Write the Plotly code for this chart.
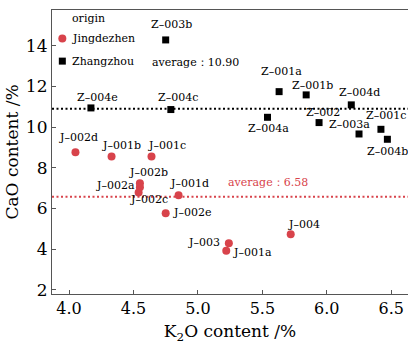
import plotly.graph_objects as go

# ---- data ----
j_names = ["J–002d", "J–001b", "J–001c", "J–002b", "J–002a", "J–002c", "J–001d",
           "J–002e", "J–003", "J–001a", "J–004"]
j_k2o = [4.05, 4.33, 4.64, 4.55, 4.55, 4.54, 4.85, 4.75, 5.24, 5.22, 5.72]
j_cao = [8.76, 8.55, 8.55, 7.24, 7.04, 6.78, 6.65, 5.77, 4.29, 3.92, 4.74]

z_names = ["Z–003b", "Z–004e", "Z–004c", "Z–001a", "Z–001b", "Z–004d", "Z–004a",
           "Z–002", "Z–003a", "Z–001c", "Z–004b"]
z_k2o = [4.75, 4.17, 4.79, 5.63, 5.84, 6.19, 5.54, 5.94, 6.25, 6.42, 6.47]
z_cao = [14.28, 10.94, 10.86, 11.74, 11.58, 11.09, 10.48, 10.22, 9.66, 9.89, 9.40]

avg_z = 10.90
avg_j = 6.58
x_ticks = [4.0, 4.5, 5.0, 5.5, 6.0, 6.5]
y_ticks = [2, 4, 6, 8, 10, 12, 14]

# ---- label offsets (pixels) ----
j_off = [(3, 15), (10, 11), (15, 11), (9, 11), (-24, 2), (10, -7), (11, 12),
         (26, 1), (-25, 1), (26, -2), (13, 10)]
z_off = [(6, 15), (7, 10), (7, 12), (2, 20), (6, 9), (8, 12), (1, -11),
         (4, 10), (-10, 9), (5, 14), (0, -12)]

RED = "#d8434b"
FONT = "DejaVu Serif"

fig = go.Figure()
fig.add_trace(go.Scatter(x=j_k2o, y=j_cao, mode="markers", name="Jingdezhen",
                         marker=dict(symbol="circle", size=8, color=RED),
                         showlegend=False))
fig.add_trace(go.Scatter(x=z_k2o, y=z_cao, mode="markers", name="Zhangzhou",
                         marker=dict(symbol="square", size=7, color="black"),
                         showlegend=False))

ann = []
for names, xs, ys, offs in [(j_names, j_k2o, j_cao, j_off), (z_names, z_k2o, z_cao, z_off)]:
    for n, x, y, (dx, dy) in zip(names, xs, ys, offs):
        ann.append(dict(x=x, y=y, text=n, showarrow=False, xshift=dx, yshift=dy,
                        font=dict(family=FONT, size=11, color="black")))

# average lines
shapes = [
    dict(type="line", xref="paper", x0=0, x1=1, yref="y", y0=avg_z, y1=avg_z,
         line=dict(color="black", width=2, dash="2px,2.5px")),
    dict(type="line", xref="paper", x0=0, x1=1, yref="y", y0=avg_j, y1=avg_j,
         line=dict(color=RED, width=2, dash="2px,2.5px")),
]
ann.append(dict(x=4.98, y=avg_z, yshift=46, text=f"average：{avg_z:.2f}", showarrow=False,
                font=dict(family=FONT, size=11, color="black")))
ann.append(dict(x=5.54, y=avg_j, yshift=14, text=f"average：{avg_j:.2f}", showarrow=False,
                font=dict(family=FONT, size=11, color=RED)))

# manual legend
ann.append(dict(xref="paper", yref="paper", x=0.05, y=0.97, xanchor="left", yanchor="middle",
                text="origin", showarrow=False, font=dict(family=FONT, size=11, color="black")))
ann.append(dict(xref="paper", yref="paper", x=0.05, y=0.9, xanchor="left", yanchor="middle",
                text="Jingdezhen", showarrow=False, font=dict(family=FONT, size=11, color="black")))
ann.append(dict(xref="paper", yref="paper", x=0.05, y=0.82, xanchor="left", yanchor="middle",
                text="Zhangzhou", showarrow=False, font=dict(family=FONT, size=11, color="black")))
shapes.append(dict(type="circle", xref="paper", yref="paper", xsizemode="pixel", ysizemode="pixel",
                   xanchor=0.029, yanchor=0.9, x0=-4, x1=4, y0=-4, y1=4,
                   fillcolor=RED, line=dict(width=0)))
shapes.append(dict(type="rect", xref="paper", yref="paper", xsizemode="pixel", ysizemode="pixel",
                   xanchor=0.029, yanchor=0.82, x0=-3.5, x1=3.5, y0=-3.5, y1=3.5,
                   fillcolor="black", line=dict(width=0)))

fig.update_layout(
    width=408, height=344,
    margin=dict(l=52, r=0, t=10, b=50),
    plot_bgcolor="white", paper_bgcolor="white",
    font=dict(family=FONT, color="black"),
    annotations=ann, shapes=shapes,
    xaxis=dict(range=[3.868, 6.63], tickvals=x_ticks, ticktext=[f"{v:.1f}" for v in x_ticks],
               ticks="inside", ticklen=4, tickcolor="#555", showline=True, linecolor="#555",
               linewidth=1.2, mirror=True, showgrid=False, zeroline=False,
               tickfont=dict(family=FONT, size=16),
               title=dict(text="K<sub>2</sub>O content /%", font=dict(family=FONT, size=17), standoff=9)),
    yaxis=dict(range=[1.8, 15.75], tickvals=y_ticks, ticks="inside", ticklen=4, tickcolor="#555",
               showline=True, linecolor="#555", linewidth=1.2, showgrid=False, zeroline=False,
               tickfont=dict(family=FONT, size=17),
               title=dict(text="CaO content /%", font=dict(family=FONT, size=17), standoff=2)),
)

fig.write_html("out.html")
